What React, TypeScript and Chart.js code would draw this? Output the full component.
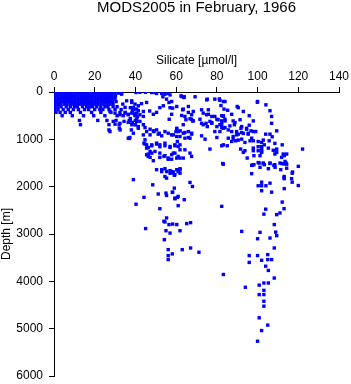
import React, { useEffect, useRef } from "react";
import { Chart, registerables } from "chart.js";

Chart.register(...registerables);

const titleText = "MODS2005 in February, 1966";
const xTitle = "Silicate [µmol/l]";
const yTitle = "Depth [m]";
const xTickValues = [0, 20, 40, 60, 80, 100, 120, 140];
const yTickValues = [0, 1000, 2000, 3000, 4000, 5000, 6000];

// [silicate µmol/l, depth m]
const surfaceBlock: [number, number][] = [
  [0.5,20],[1.9,20],[3.3,20],[4.7,20],[6.1,20],[7.5,20],[8.9,20],[10.3,20],[11.7,20],[13.1,20],[14.5,20],[15.9,20],[17.3,20],[18.7,20],[20.1,20],[21.5,20],[22.9,20],[24.3,20],[25.7,20],[27.1,20],[28.5,20],[29.9,20],[31.6,20],[33.2,25],
  [0.6,80],[2,80],[3.4,80],[4.8,80],[6.2,80],[7.6,80],[9,80],[10.4,80],[11.8,80],[13.2,80],[14.6,80],[16,80],[17.4,80],[18.8,80],[20.2,80],[21.6,80],[23,80],[24.4,80],[25.8,80],[27.2,80],[28.6,80],[30.2,80],
  [0.5,140],[1.9,140],[3.3,140],[4.7,140],[6.1,140],[7.5,140],[8.9,140],[10.3,140],[11.7,140],[13.1,140],[14.5,140],[15.9,140],[17.3,140],[18.7,140],[20.1,140],[21.5,140],[22.9,140],[24.3,140],[25.7,140],[27.1,140],[28.5,140],[30,140],
  [0.6,200],[2,200],[3.4,200],[4.8,200],[6.2,200],[7.6,200],[9,200],[10.4,200],[11.8,200],[13.2,200],[14.6,200],[16,200],[17.4,200],[18.8,200],[20.2,200],[21.6,200],[23,200],[24.4,200],[25.8,200],[27.2,200],[28.8,200],[30.5,200],
  [0.5,255],[1.9,255],[3.3,255],[5,255],[6.4,255],[8,255],[9.6,255],[11,255],[12.6,255],[14,255],[15.5,255],[17,255],[18.5,255],[20,255],[21.4,255],[23,255],[24.5,255],[26,255],[27.5,255],[29,255],
  [0.5,310],[2,310],[3.5,310],[6,310],[8,310],[10,310],[11.5,310],[14,310],[16,310],[17.5,310],[19,310],[21,310],[23,310],[25,310],[26.5,310],[29,310],[31,310],
  [0.5,370],[2,370],[4.5,370],[7,370],[9.5,370],[12,370],[15,370],[17,370],[20,370],[22.5,370],[24,370],[27,370],[30,370],[33,370],
  [1,430],[3,430],[5.5,430],[8,430],[13,430],[18.5,430],[23,430],[28,430],[35,430],
  [4,500],[9,500],[14.5,500],[19.5,500],[25,500],[31,500],[34,500],
  [12.5,600],[21.5,600],[26,600],[30.5,600],[37,600],
  [13,690],[27,690],[32,690],[40,690],
  [27,800],[32.5,800],[38,800],[37,980],
];

const surfaceScatter: [number, number][] = [
  [31.6,10],[33.2,45],[35.7,185],[38.2,220],[34.9,325],[39,325],[40.6,360],[32.4,435],[36.5,470],[39.8,500],[37.3,610],[40.6,575],[41.4,395],[33.8,255],
  [40.3,10],[42.2,5],[45,5],[48,10],[49.6,10],[50.4,30],[52.9,30],[54.5,45],[56,30],[53.5,100],[55.3,150],[56.5,220],[62.4,80],[64,100],[69.3,100],[75.3,150],[79,150],[81.5,175],[84,200],
  [38.2,185],[39.8,255],[41.4,290],[43,245],[45.5,220],
  [37.5,330],[38.5,400],[39.5,460],[41,520],[37.5,560],[40,600],[38.5,640],
  [27.5,410],[30,445],[32.4,480],[34.9,445],[36.5,480],[38.2,445],[39,375],[40.6,445],[42.2,480],[43.9,410],
  [29.1,620],[30,680],[32.4,660],[34.4,620],[36.5,640],[38.2,690],[40.6,620],[27.5,835],[32.1,765],[37.3,960],[39,870],[41.4,730],
  [43.9,515],[42.2,620],[39.8,690],[41.4,765],[43.9,690],[36.5,975],
];

const intermediateLeft: [number, number][] = [
  [47,400],[48.8,470],[50.4,430],[52,330],[53.7,290],[57,330],[57.8,470],[56.6,575],[63.5,360],[66,430],[67.6,575],[68.4,610],[71.7,575],[75.8,470],[77.5,645],[80,575],[82.4,680],[83.5,360],[83.2,500],[84,610],
  [44.7,750],[47.2,785],[48.8,820],[51.2,890],[52.9,925],[60.3,785],[62,820],[64.3,855],[66,960],[67.6,890],[72.5,925],[74.2,995],[76.6,1205],[80,960],[82.4,1135],
  [44.7,1100],[46.3,1170],[48,1135],[50.4,1100],[52,1155],[54.5,1135],[57,1170],[59.4,1135],[61.9,1115],
  [46.3,1310],[47.2,1380],[48.8,1450],[52,1380],[54.5,1345],[56.1,1420],[57.8,1420],
  [57,60],[62.7,95],[63.8,115],[75,165],[81.2,145],[83.2,200],[82,285],
  [57.8,200],[58.3,340],[60.3,305],[63.2,375],[66,305],[68.4,410],[67.6,480],[64.3,515],[62.7,495],[64.8,585],[66.8,565],[68.1,610],[63.5,690],
  [72.5,375],[73.3,445],[75,480],[75.8,375],[77.5,515],[76.6,620],[74.7,660],[72.5,660],[73.3,690],[75.3,730],[77.5,660],
  [79,515],[80.6,585],[82.4,620],[83.2,515],[80,730],[81.5,690],[79,835],[83.2,765],[81.5,835],
  [60.3,765],[61,835],[61.9,940],[63.5,870],[66,835],[67.6,870],[58.6,905],[64.3,975],[66.8,975],
  [59.4,1115],[61,1150],[58.6,1290],[61.9,1220],[60.3,1395],[61.9,1395],[61.9,1640],[57.8,1680],[61,1680],[59.4,1745],[57,1715],
  [66.8,1290],[67.6,1360],[63.5,1395],[64.3,1220],
  [43.9,905],[44.7,1010],[45.5,1115],[46.3,1360],[47.2,1255],
  [45.5,835],[47.2,905],[49.1,835],[50.4,800],[51.7,870],[54.5,835],[56.1,870],[57.8,905],[59.9,835],
  [44.2,1080],[45.5,1185],[48,1115],[50.4,1080],[52,1115],[54.5,1080],[57,1150],[60.3,940],[60.6,1045],
  [45.5,1325],[48,1290],[49.6,1255],[52,1290],[54,1360],[56.1,1395],[57.8,1325],[59.4,1290],[61,1360],
  [50.4,1640],[52.9,1680],[54.5,1620],[57,1660],[58.6,1715],[60.3,1640],[54.5,1785],
];

const deepLeft: [number, number][] = [
  [52.9,1640],[55.3,1680],[58.6,1690],[61.9,1620],[61.9,1715],[55.3,1820],[59.1,1760],[39,1850],[48.5,1960],[66.8,1910],[68,1995],
  [59.1,2030],[58.1,2120],[55.3,2185],[51.2,2155],[60.6,2225],[59.4,2255],[64,2275],[44.2,2225],[55,2135],[58.3,2115],[59.4,2240],[61,2205],
  [61,2400],[52,2465],[82.4,2415],[40.3,2370],[55.3,2660],[54,2730],[56.5,2800],[54.5,2745],[60.3,2800],[58.3,2790],[65.2,2780],[67.1,2760],
  [45,2885],[61.9,2930],[57,2980],[55,2930],[54.2,3120],[56.1,3330],[58.1,3420],[56.1,3455],[56.1,3540],[63,3330],[67.1,3295],[71.2,3385],
  [83.2,3855],
];

const intermediateRight: [number, number][] = [
  [90.5,330],[93,410],[95.9,500],[99.9,215],[104.1,270],[106.1,395],[106.9,515],[106.9,660],
  [100,200],[90,305],[85.3,385],
  [82.4,500],[82.4,610],[84,575],[87.3,470],[88,610],[91.4,585],[82.4,750],[84,750],[86.4,715],[88.6,690],[88.9,645],
  [97.9,610],[95.9,700],[94.6,785],[91.8,765],[92.2,855],[99.1,835],[96.8,820],[95.4,890],[93,875],[90.5,890],
  [85.6,800],[87.3,835],[89.7,835],[85.6,975],[88,940],[89.7,905],[92.2,730],[94.6,765],[95.4,870],[97.9,835],
  [104,890],[106.1,890],[107.2,945],[109.4,820],
  [88,995],[89.2,1030],[90.5,1015],[92.2,995],[93.8,1065],[97.1,975],[97.9,1030],[96.3,1030],
  [83.2,1115],[85.1,1135],[87.3,1045],
  [100.3,1045],[102,1065],[102.8,1015],[103.3,1115],[105.7,1030],[108.5,1085],[112.1,1115],
  [97.9,1185],[97.9,1240],[100.3,1155],[100.3,1240],[102,1155],[102,1205],[102,1255],[105.3,1185],[107.7,1230],[108.5,1240],[108.5,1310],[109.4,1205],[109.4,1275],
  [91.7,1205],[93,1275],[93.8,1240],[98.2,1345],[101.2,1345],[102,1275],
  [111.8,1380],[113.1,1345],[114.3,1310],[122.1,1205],[112.6,1310],
  [82.9,1510],[83.2,1525],[94.9,1395],[97.4,1545],[100.3,1490],[102.8,1510],[106.1,1510],[108.5,1535],[111.8,1510],[113.5,1465],[120,1570],
  [97.1,1550],[98.2,1535],[100.8,1500],[101.2,1590],[102.8,1500],[103.3,1535],[105.3,1620],[106.1,1500],[108,1550],[108.6,1590],[111,1500],[111.4,1640],[113,1520],[114.3,1610],[114,1500],[114.3,1525],
];

const deepRight: [number, number][] = [
  [97.1,1725],[113.1,1785],[113.1,1830],[117,1715],[117,1905],[120,1975],[113.1,2040],[117.2,1690],[116.7,1830],[113,1805],
  [102,1905],[100.3,1980],[102,1980],[104.1,1980],[102,2085],[106.9,2115],[106.1,1925],
  [112.1,2325],[113,2465],[111,2555],[109.4,2590],[104,2475],[103.1,2580],[108.2,2800],[108.9,2960],[109.4,3035],
  [92.2,2945],[101.2,2965],[100,3100],[106.1,3085],[108.2,3295],
  [95.9,3455],[100,3455],[95.9,3600],[102,3555],[105,3435],[105,3540],[106.9,3540],[104,3680],[105.3,3770],
  [108.2,3930],[100.8,4080],[103.1,4035],[105.3,4035],[94,4125],[103.1,4190],[100.8,4280],[103.1,4280],[103.1,4420],[103.1,4525],[100.8,4770],[105,4925],[102,5040],[100,5265],
];

const FONT = "'Liberation Sans', Arial, Helvetica, sans-serif";

export default function App() {
  const ref = useRef<HTMLCanvasElement | null>(null);

  useEffect(() => {
    if (!ref.current) return;
    const all = [
      ...surfaceBlock,
      ...surfaceScatter,
      ...intermediateLeft,
      ...intermediateRight,
      ...deepLeft,
      ...deepRight,
    ].map(([x, y]) => ({ x, y }));

    const gridOpts = {
      drawOnChartArea: false,
      drawTicks: true,
      tickLength: 5,
      color: "#000",
      lineWidth: 1,
    };
    const borderOpts = { display: true, color: "#000", width: 1 };
    const tickFont = { family: FONT, size: 12, weight: "normal" as const, lineHeight: 1.2 };

    const chart = new Chart(ref.current, {
      type: "scatter",
      data: {
        datasets: [
          {
            data: all,
            pointStyle: "rect",
            pointRadius: 2.4,
            pointHoverRadius: 2.4,
            borderWidth: 0,
            backgroundColor: "#0000ff",
            borderColor: "#0000ff",
          },
        ],
      },
      options: {
        responsive: false,
        animation: false,
        devicePixelRatio: 1,
        events: [],
        layout: { padding: { left: 0, right: 12, top: 0, bottom: 8 } },
        plugins: {
          legend: { display: false },
          tooltip: { enabled: false },
          title: {
            display: true,
            text: titleText,
            fullSize: false,
            color: "#000",
            font: { family: FONT, size: 15, weight: "normal", lineHeight: 1.07 },
            padding: { top: 0, bottom: 0 },
          },
        },
        scales: {
          x: {
            type: "linear",
            position: "top",
            min: xTickValues[0],
            max: xTickValues[xTickValues.length - 1],
            afterFit: (s: any) => {
              s.height = 76;
              s.paddingLeft = 0;
              s.paddingRight = 0;
            },
            afterBuildTicks: (s: any) => {
              s.ticks = xTickValues.map((v) => ({ value: v }));
            },
            ticks: {
              padding: 3,
              color: "#000",
              font: tickFont,
              maxRotation: 0,
              autoSkip: false,
              callback: (v: any) => String(v),
            },
            grid: gridOpts,
            border: borderOpts,
            title: {
              display: true,
              text: xTitle,
              color: "#000",
              font: { family: FONT, size: 12, weight: "normal", lineHeight: 1.2 },
              padding: { top: 37, bottom: 0 },
            },
          },
          y: {
            type: "linear",
            reverse: true,
            min: yTickValues[0],
            max: yTickValues[yTickValues.length - 1],
            afterFit: (s: any) => {
              s.width = 54;
              s.paddingTop = 0;
              s.paddingBottom = 0;
            },
            afterBuildTicks: (s: any) => {
              s.ticks = yTickValues.map((v) => ({ value: v }));
            },
            ticks: {
              padding: 6,
              color: "#000",
              font: tickFont,
              autoSkip: false,
              callback: (v: any) => String(v),
            },
            grid: gridOpts,
            border: borderOpts,
            title: {
              display: true,
              text: yTitle,
              color: "#000",
              font: { family: FONT, size: 12, weight: "normal", lineHeight: 1.1 },
              padding: { top: 0, bottom: 0 },
            },
          },
        },
      },
    } as any);

    return () => chart.destroy();
  }, []);

  return (
    <div style={{ position: "absolute", left: 0, top: 0, width: 351, height: 384, background: "#fff" }}>
      <canvas ref={ref} width={351} height={384} style={{ display: "block" }} />
    </div>
  );
}
